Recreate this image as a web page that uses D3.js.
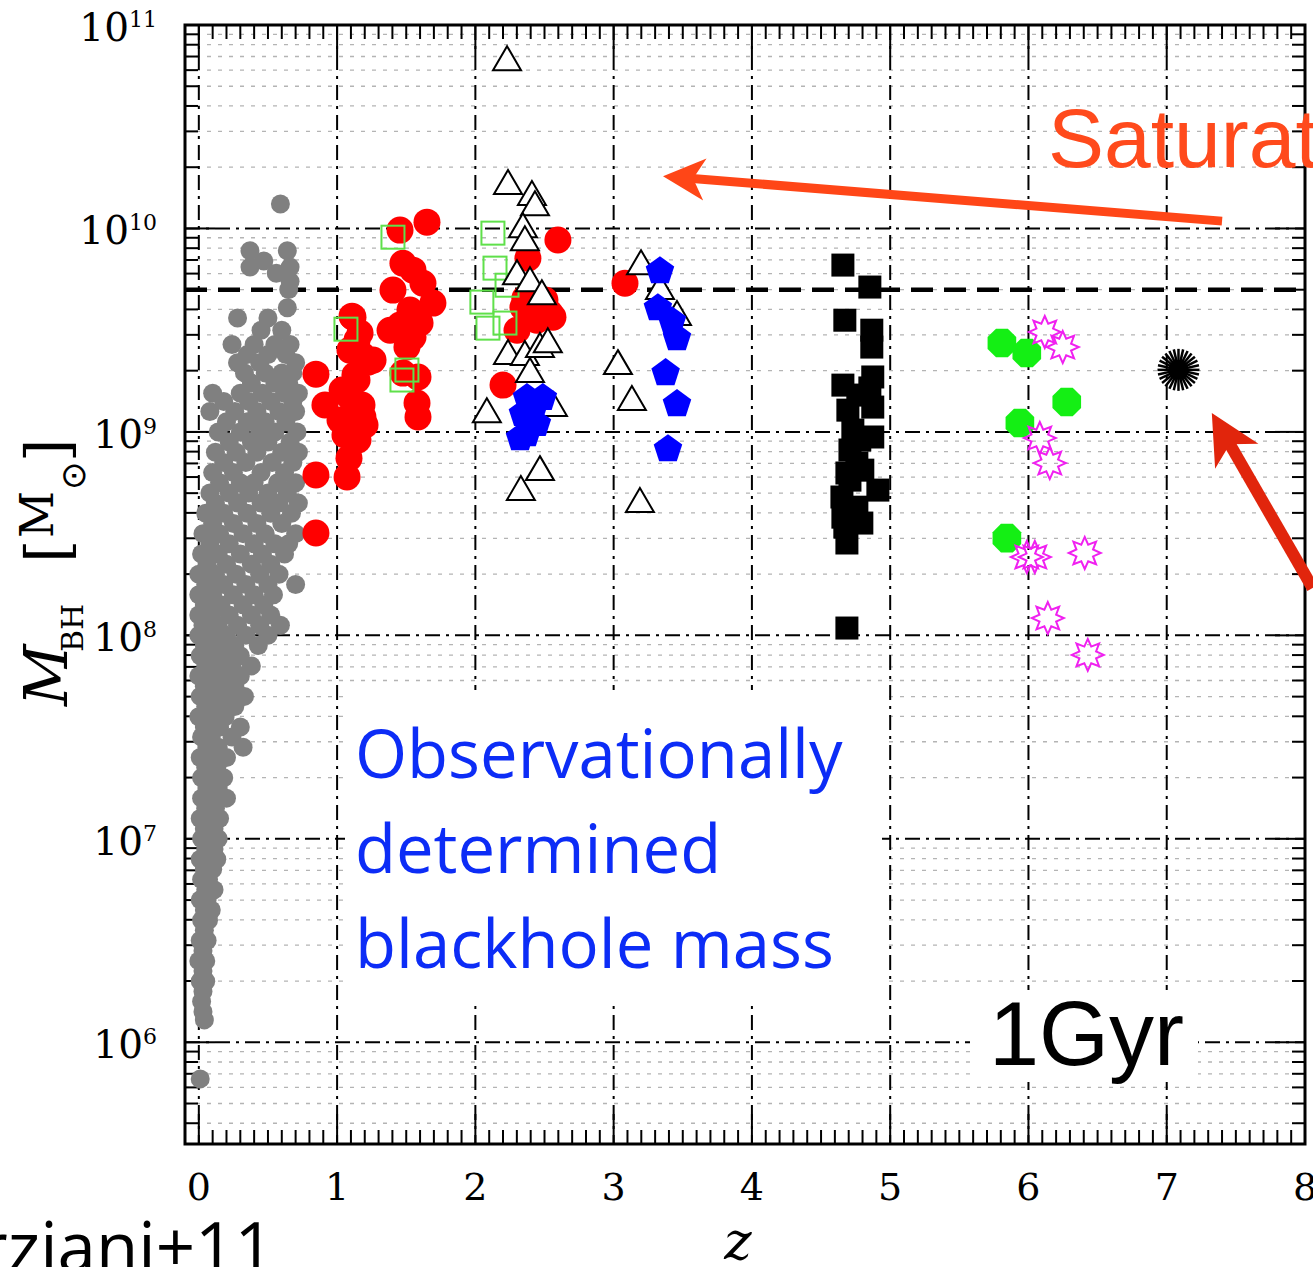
<!DOCTYPE html>
<html>
<head>
<meta charset="utf-8">
<script src="https://cdn.jsdelivr.net/npm/d3@7"></script>
<style>
body { margin: 0; background: #fff; }
svg { display: block; }
</style>
</head>
<body>
<div id="chart"></div>
<script>
(function() {

// ---- data: [z, log10(M_BH)] ----
var xTicks = [0, 1, 2, 3, 4, 5, 6, 7, 8];
var yDecades = [6, 7, 8, 9, 10, 11];
var saturationMass = 5e9;

// Marziani+11 low-z sample, rows of [log10 M, z values]
var grayRows = [
  [10.12, [0.59]], [9.89, [0.37, 0.64]], [9.84, [0.47]], [9.81, [0.37, 0.66]], [9.78, [0.56]],
  [9.74, [0.66]], [9.70, [0.65]], [9.61, [0.64]], [9.56, [0.28, 0.50]], [9.50, [0.45, 0.60]],
  [9.43, [0.24, 0.40, 0.55, 0.66]], [9.38, [0.35, 0.50, 0.63]], [9.34, [0.28, 0.44, 0.70]],
  [9.29, [0.33, 0.48, 0.60, 0.68]], [9.24, [0.38, 0.55, 0.65]], [9.19, [0.10, 0.30, 0.46, 0.62, 0.72]],
  [9.15, [0.18, 0.36, 0.52, 0.68]], [9.10, [0.08, 0.26, 0.42, 0.58, 0.70]], [9.05, [0.20, 0.35, 0.48, 0.63]],
  [9.00, [0.14, 0.30, 0.44, 0.55, 0.71]], [8.95, [0.22, 0.38, 0.50, 0.66]], [8.90, [0.12, 0.27, 0.42, 0.60, 0.72]],
  [8.85, [0.18, 0.34, 0.53, 0.68]], [8.80, [0.10, 0.25, 0.45, 0.62]], [8.75, [0.15, 0.30, 0.40, 0.57, 0.70]],
  [8.70, [0.08, 0.22, 0.36, 0.50, 0.64]], [8.65, [0.12, 0.28, 0.45, 0.58, 0.72]], [8.60, [0.05, 0.18, 0.35, 0.52, 0.67]],
  [8.55, [0.10, 0.25, 0.42, 0.60]], [8.50, [0.03, 0.15, 0.32, 0.48, 0.70]], [8.45, [0.08, 0.22, 0.40, 0.55, 0.65]],
  [8.40, [0.02, 0.14, 0.30, 0.46, 0.62]], [8.35, [0.06, 0.20, 0.38, 0.52]], [8.30, [0.00, 0.12, 0.27, 0.44, 0.58]],
  [8.25, [0.05, 0.18, 0.34, 0.50, 0.70]], [8.20, [0.00, 0.10, 0.25, 0.40, 0.54]], [8.15, [0.04, 0.16, 0.32, 0.47]],
  [8.10, [0.00, 0.09, 0.22, 0.38, 0.52]], [8.05, [0.03, 0.14, 0.28, 0.44, 0.59]], [8.00, [0.00, 0.08, 0.20, 0.34, 0.50]],
  [7.95, [0.04, 0.13, 0.26, 0.43]], [7.90, [0.01, 0.09, 0.18, 0.30]], [7.85, [0.05, 0.14, 0.24, 0.38]],
  [7.80, [0.00, 0.10, 0.20, 0.30]], [7.75, [0.04, 0.15, 0.26]], [7.70, [0.01, 0.09, 0.22, 0.33]],
  [7.65, [0.05, 0.14, 0.26]], [7.60, [0.00, 0.10, 0.19]], [7.55, [0.04, 0.15, 0.30]], [7.50, [0.02, 0.09, 0.24]],
  [7.45, [0.06, 0.14, 0.32]], [7.40, [0.01, 0.10, 0.20]], [7.35, [0.05, 0.13]], [7.30, [0.02, 0.09, 0.18]],
  [7.25, [0.06, 0.14]], [7.20, [0.02, 0.10, 0.20]], [7.15, [0.05, 0.12]], [7.10, [0.01, 0.08, 0.15]],
  [7.05, [0.04, 0.11]], [7.00, [0.02, 0.08, 0.14]], [6.95, [0.05, 0.11]], [6.90, [0.01, 0.07, 0.13]],
  [6.85, [0.04, 0.10]], [6.80, [0.02, 0.07]], [6.75, [0.05, 0.11]], [6.70, [0.01, 0.06]], [6.65, [0.04, 0.09]],
  [6.60, [0.02, 0.07]], [6.55, [0.04]], [6.50, [0.01, 0.06]], [6.45, [0.03]], [6.40, [0.00, 0.05]],
  [6.35, [0.03]], [6.30, [0.01, 0.05]], [6.25, [0.03]], [6.20, [0.02]], [6.15, [0.03]], [6.11, [0.04]],
  [5.82, [0.01]]
];

var redPts = [
  [0.847, 9.284], [0.912, 9.132], [0.847, 8.788], [0.847, 8.503], [1.108, 9.569], [1.144, 9.451],
  [1.180, 9.378], [1.223, 9.343], [1.129, 9.280], [1.079, 9.181], [1.180, 9.132], [1.093, 9.058],
  [1.202, 9.034], [1.151, 8.960], [1.057, 8.985], [1.086, 8.871], [1.072, 8.778], [1.115, 9.564],
  [1.166, 9.486], [1.260, 9.353], [1.093, 9.402], [1.144, 9.255], [1.108, 9.157], [1.187, 9.073],
  [1.115, 9.009], [1.036, 9.206], [1.021, 9.058],
  [1.455, 9.992], [1.650, 10.031], [1.476, 9.829], [1.549, 9.795], [1.621, 9.731], [1.404, 9.697],
  [1.693, 9.633], [1.527, 9.599], [1.600, 9.535], [1.383, 9.500], [1.549, 9.466], [1.505, 9.417],
  [1.476, 9.289], [1.585, 9.270], [1.578, 9.142], [1.585, 9.073], [1.455, 9.525],
  [2.597, 9.943], [2.380, 9.854], [2.200, 9.230], [2.344, 9.613], [2.539, 9.584], [2.301, 9.500],
  [2.445, 9.549], [2.561, 9.564], [2.358, 9.657], [2.503, 9.648],
  [3.082, 9.731]
];

var greenSquarePts = [
  [1.404, 9.957], [1.064, 9.505], [1.505, 9.304], [1.469, 9.255], [2.127, 9.977],
  [2.142, 9.805], [2.229, 9.721], [2.047, 9.638], [2.214, 9.535], [2.091, 9.510]
];

var trianglePts = [
  [2.229, 10.837], [2.236, 10.228], [2.409, 10.174], [2.431, 10.124], [2.344, 10.016], [2.358, 9.952],
  [2.301, 9.785], [2.395, 9.750], [2.481, 9.687], [2.236, 9.393], [2.358, 9.388], [2.467, 9.427],
  [2.524, 9.451], [2.395, 9.304], [2.561, 9.137], [2.083, 9.107], [2.467, 8.822], [2.329, 8.724],
  [3.031, 9.343], [3.132, 9.167], [3.198, 9.834], [3.335, 9.712], [3.458, 9.584], [3.190, 8.665]
];

var bluePentPts = [
  [3.335, 9.795], [3.320, 9.613], [3.422, 9.549], [3.458, 9.466], [3.376, 9.294], [3.458, 9.142],
  [3.393, 8.920], [2.373, 9.172], [2.488, 9.172], [2.344, 9.093], [2.445, 9.044], [2.373, 8.994],
  [2.416, 9.107], [2.323, 8.975]
];

var blackSquarePts = [
  [4.658, 9.820], [4.853, 9.712], [4.672, 9.549], [4.867, 9.500], [4.867, 9.417], [4.658, 9.230],
  [4.874, 9.270], [4.853, 9.216], [4.694, 9.107], [4.874, 9.122], [4.730, 9.009], [4.874, 8.975],
  [4.709, 8.911], [4.759, 8.847], [4.687, 8.798], [4.802, 8.812], [4.911, 8.714], [4.651, 8.680],
  [4.759, 8.630], [4.658, 8.581], [4.795, 8.552], [4.687, 8.454], [4.687, 8.036], [4.766, 9.181],
  [4.780, 8.960], [4.709, 8.763], [4.672, 8.532]
];

var greenOctPts = [
  [5.808, 9.437], [5.988, 9.388], [6.277, 9.147], [5.938, 9.044], [5.844, 8.478]
];

var magentaStarPts = [
  [6.118, 9.491], [6.248, 9.417], [6.082, 8.970], [6.154, 8.847], [5.988, 8.385],
  [6.046, 8.385], [6.407, 8.405], [6.140, 8.085], [6.429, 7.904]
];

var burstPts = [[7.085, 9.305]];

// annotation arrows, [z, log10 M] of tail and tip
var saturationArrow = [[7.40, 10.036], [3.357, 10.257]];
var gyrArrow = [[8.055, 8.233], [7.326, 9.093]];

// ---- layout ----
var margin = {top: 25, right: 8, bottom: 123, left: 185},
    width = 1313 - margin.left - margin.right,
    height = 1267 - margin.top - margin.bottom;

var x = d3.scaleLinear()
    .domain([-0.1, 8])
    .range([0, width]);

var y = d3.scaleLog()
    .domain([Math.pow(10, 5.5), 1e11])
    .range([height, 0]);

var svg0 = d3.select("#chart").append("svg")
    .attr("width", 1313)
    .attr("height", 1267);

var svg = svg0.append("g")
    .attr("transform", "translate(" + margin.left + "," + margin.top + ")");

var grayPts = [];
grayRows.forEach(function(r) {
  r[1].forEach(function(z) { grayPts.push([z, r[0]]); });
});

var px = function(d) { return x(d[0]); };
var py = function(d) { return y(Math.pow(10, d[1])); };

// minor log values inside the domain
var minorVals = [];
[5, 6, 7, 8, 9, 10].forEach(function(e) {
  for (var k = 2; k <= 9; k++) {
    var v = k * Math.pow(10, e);
    if (v > y.domain()[0] && v < y.domain()[1]) minorVals.push(v);
  }
});

// light dotted grid
svg.selectAll(".minorgrid")
    .data(minorVals)
  .enter().append("line")
    .attr("x1", 0).attr("x2", width)
    .attr("y1", y).attr("y2", y)
    .style("stroke", "#b4b4b4")
    .style("stroke-width", 1.3)
    .style("stroke-dasharray", "4,7");

// dash-dot grid
svg.selectAll(".hgrid")
    .data(yDecades.filter(function(e) { return e < 11; }))
  .enter().append("line")
    .attr("x1", 0).attr("x2", width)
    .attr("y1", function(e) { return y(Math.pow(10, e)); })
    .attr("y2", function(e) { return y(Math.pow(10, e)); })
    .style("stroke", "#000")
    .style("stroke-width", 2)
    .style("stroke-dasharray", "15,6,3,6");

svg.selectAll(".vgrid")
    .data(xTicks.filter(function(t) { return t < 8; }))
  .enter().append("line")
    .attr("x1", x).attr("x2", x)
    .attr("y1", 0).attr("y2", height)
    .style("stroke", "#000")
    .style("stroke-width", 2)
    .style("stroke-dasharray", "15,6,3,6");

// ticks
var xMinor = d3.range(0, 81).map(function(i) { return i / 10; });
var tickG = svg.append("g").style("stroke", "#000").style("stroke-width", 2);
xMinor.forEach(function(v, i) {
  var len = (i % 10 === 0) ? 30 : 14;
  tickG.append("line").attr("x1", x(v)).attr("x2", x(v)).attr("y1", height).attr("y2", height - len);
  tickG.append("line").attr("x1", x(v)).attr("x2", x(v)).attr("y1", 0).attr("y2", len);
});
minorVals.forEach(function(v) {
  tickG.append("line").attr("x1", 0).attr("x2", 13).attr("y1", y(v)).attr("y2", y(v));
  tickG.append("line").attr("x1", width).attr("x2", width - 13).attr("y1", y(v)).attr("y2", y(v));
});
yDecades.forEach(function(e) {
  var v = y(Math.pow(10, e));
  tickG.append("line").attr("x1", 0).attr("x2", 30).attr("y1", v).attr("y2", v);
  tickG.append("line").attr("x1", width).attr("x2", width - 30).attr("y1", v).attr("y2", v);
});

// saturation line
svg.append("line")
    .attr("x1", 0).attr("x2", width)
    .attr("y1", y(saturationMass)).attr("y2", y(saturationMass))
    .style("stroke", "#000")
    .style("stroke-width", 4.5)
    .style("stroke-dasharray", "22,11");

// white boxes behind the labels
svg0.append("rect").attr("x", 345).attr("y", 690).attr("width", 537).attr("height", 310).style("fill", "#fff");
svg0.append("rect").attr("x", 970).attr("y", 990).attr("width", 228).attr("height", 92).style("fill", "#fff");

// ---- markers ----
svg.selectAll(".gray")
    .data(grayPts)
  .enter().append("circle")
    .attr("cx", px).attr("cy", py).attr("r", 9.5)
    .style("fill", "#808080");

svg.selectAll(".red")
    .data(redPts)
  .enter().append("circle")
    .attr("cx", px).attr("cy", py).attr("r", 13.5)
    .style("fill", "#ff0000");

svg.selectAll(".gsq")
    .data(greenSquarePts)
  .enter().append("rect")
    .attr("x", function(d) { return px(d) - 11.5; })
    .attr("y", function(d) { return py(d) - 11.5; })
    .attr("width", 23).attr("height", 23)
    .style("fill", "none")
    .style("stroke", "#5fe04a")
    .style("stroke-width", 2);

var polyPath = function(n, r, rot) {
  var pts = d3.range(n).map(function(i) {
    var a = rot + i * 2 * Math.PI / n;
    return [r * Math.sin(a), -r * Math.cos(a)];
  });
  return "M" + pts.join("L") + "Z";
};

var starPath = function(n, r1, r2) {
  var pts = d3.range(2 * n).map(function(i) {
    var a = i * Math.PI / n, r = (i % 2 === 0) ? r1 : r2;
    return [r * Math.sin(a), -r * Math.cos(a)];
  });
  return "M" + pts.join("L") + "Z";
};

svg.selectAll(".tri")
    .data(trianglePts)
  .enter().append("path")
    .attr("d", "M0,-12L14,12L-14,12Z")
    .attr("transform", function(d) { return "translate(" + px(d) + "," + py(d) + ")"; })
    .style("fill", "#fff")
    .style("stroke", "#000")
    .style("stroke-width", 2);

svg.selectAll(".pent")
    .data(bluePentPts)
  .enter().append("path")
    .attr("d", polyPath(5, 15, 0))
    .attr("transform", function(d) { return "translate(" + px(d) + "," + (py(d) + 1) + ")"; })
    .style("fill", "#0000ff");

svg.selectAll(".bsq")
    .data(blackSquarePts)
  .enter().append("rect")
    .attr("x", function(d) { return px(d) - 11.5; })
    .attr("y", function(d) { return py(d) - 11.5; })
    .attr("width", 23).attr("height", 23)
    .style("fill", "#000");

svg.selectAll(".oct")
    .data(greenOctPts)
  .enter().append("path")
    .attr("d", polyPath(8, 15.5, Math.PI / 8))
    .attr("transform", function(d) { return "translate(" + px(d) + "," + py(d) + ")"; })
    .style("fill", "#14ef14");

svg.selectAll(".mstar")
    .data(magentaStarPts)
  .enter().append("path")
    .attr("d", starPath(8, 16, 9))
    .attr("transform", function(d) { return "translate(" + px(d) + "," + py(d) + ")"; })
    .style("fill", "none")
    .style("stroke", "#f020f0")
    .style("stroke-width", 2);

burstPts.forEach(function(d) {
  var g = svg.append("g").attr("transform", "translate(" + px(d) + "," + py(d) + ")");
  d3.range(28).forEach(function(i) {
    var a = i * 2 * Math.PI / 28;
    g.append("line")
      .attr("x1", 0).attr("y1", 0)
      .attr("x2", 21 * Math.cos(a)).attr("y2", 21 * Math.sin(a))
      .style("stroke", "#000").style("stroke-width", 2.5);
  });
  g.append("circle").attr("r", 10).style("fill", "#000");
});

// frame
svg.append("rect")
    .attr("width", width).attr("height", height)
    .style("fill", "none")
    .style("stroke", "#000")
    .style("stroke-width", 3);

// ---- arrows ----
function arrow(a, color, sw, headLen, headW) {
  var t0 = [px(a[0]), py(a[0])], t1 = [px(a[1]), py(a[1])];
  var dx = t0[0] - t1[0], dy = t0[1] - t1[1], L = Math.sqrt(dx * dx + dy * dy);
  var ux = dx / L, uy = dy / L, nx = -uy, ny = ux;
  svg.append("line")
      .attr("x1", t0[0]).attr("y1", t0[1])
      .attr("x2", t1[0] + ux * headLen * 0.7).attr("y2", t1[1] + uy * headLen * 0.7)
      .style("stroke", color).style("stroke-width", sw);
  var pts = [
    t1,
    [t1[0] + ux * headLen + nx * headW, t1[1] + uy * headLen + ny * headW],
    [t1[0] + ux * headLen * 0.72, t1[1] + uy * headLen * 0.72],
    [t1[0] + ux * headLen - nx * headW, t1[1] + uy * headLen - ny * headW]
  ];
  svg.append("path").attr("d", "M" + pts.join("L") + "Z").style("fill", color);
}
arrow(saturationArrow, "#ff4617", 9, 42, 21);
arrow(gyrArrow, "#e1250c", 12, 50, 25);

// ---- text ----
svg0.append("text")
    .attr("x", 1048).attr("y", 167)
    .style("font-family", "'Liberation Sans', Arial, sans-serif")
    .style("font-size", "84px")
    .style("fill", "#ff4a1c")
    .text("Saturation");

var blueLines = ["Observationally", "determined", "blackhole mass"];
svg0.selectAll(".blue")
    .data(blueLines)
  .enter().append("text")
    .attr("x", 355)
    .attr("y", function(d, i) { return 778 + i * 95; })
    .style("font-family", "'Open Sans', sans-serif")
    .style("font-size", "67px")
    .style("fill", "#0c2cf6")
    .text(function(d) { return d; });

svg0.append("text")
    .attr("x", 989).attr("y", 1065)
    .style("font-family", "'Liberation Sans', Arial, sans-serif")
    .style("font-size", "90px")
    .style("fill", "#000")
    .text("1Gyr");

svg0.append("text")
    .attr("x", 274).attr("y", 1272)
    .attr("text-anchor", "end")
    .style("font-family", "'Open Sans', sans-serif")
    .style("font-size", "69px")
    .style("fill", "#000")
    .text("Marziani+11");

// tick labels
var serif = "'DejaVu Serif', serif";
svg0.selectAll(".xlab")
    .data(xTicks)
  .enter().append("text")
    .attr("x", function(t) { return margin.left + x(t); })
    .attr("y", 1200)
    .attr("text-anchor", "middle")
    .style("font-family", serif)
    .style("font-size", "38px")
    .text(function(t) { return t; });

var ylab = svg0.selectAll(".ylab")
    .data(yDecades)
  .enter().append("text")
    .attr("x", 157)
    .attr("y", function(e) { return margin.top + y(Math.pow(10, e)) + 16; })
    .attr("text-anchor", "end")
    .style("font-family", serif)
    .style("font-size", "39px");
ylab.append("tspan").text("10");
ylab.append("tspan").attr("dy", -14).style("font-size", "22px").text(function(e) { return e; });

svg0.append("text")
    .attr("x", 738).attr("y", 1259)
    .attr("text-anchor", "middle")
    .style("font-family", serif)
    .style("font-style", "italic")
    .style("font-size", "52px")
    .text("z");

// y axis label
function rotText(tx, ty, size, str, style, fam) {
  svg0.append("text")
      .attr("transform", "translate(" + tx + "," + ty + ") rotate(-90)")
      .style("font-family", fam || serif)
      .style("font-style", style || "normal")
      .style("font-size", size + "px")
      .text(str);
}
rotText(67, 706, 60, "M", "italic");
rotText(83, 652, 30, "BH");
rotText(68, 563, 60, "[");
rotText(53, 538, 46, "M");
rotText(85, 490, 34, "\u2299", "normal", "'DejaVu Sans', sans-serif");
rotText(68, 462, 60, "]");

})()
</script>
</body>
</html>
